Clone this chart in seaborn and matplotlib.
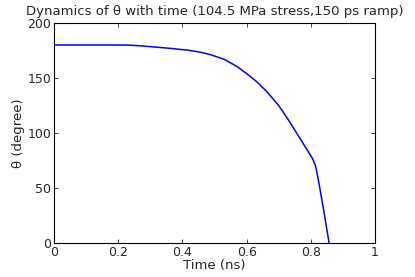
import pandas as pd
import matplotlib
matplotlib.use("Agg")
import matplotlib.pyplot as plt
import seaborn as sns

# Values
time_ns = [0, 0.1, 0.2, 0.24, 0.28, 0.32, 0.36, 0.42, 0.46, 0.49, 0.53, 0.57,
           0.60, 0.63, 0.66, 0.70, 0.73, 0.76, 0.79, 0.805, 0.815, 0.825,
           0.84, 0.857]
theta_deg = [180, 180, 180, 179.8, 179, 178, 177, 175.2, 173.2, 171, 167, 160.5,
             154, 147, 138.5, 125, 112, 98, 84, 77, 70, 55, 30, 0]

x_ticks = [0, 0.2, 0.4, 0.6, 0.8, 1]
x_tick_labels = ["0", "0.2", "0.4", "0.6", "0.8", "1"]
y_ticks = [0, 50, 100, 150, 200]

df = pd.DataFrame({"Time (ns)": time_ns, "theta": theta_deg})

sns.set_style("ticks")
plt.rcParams["font.family"] = ["DejaVu Sans"]

fig = plt.figure(figsize=(4.15, 2.77), dpi=100)
ax = fig.add_axes([54 / 415, 1 - 243 / 277, 321 / 415, 220 / 277])

sns.lineplot(x="Time (ns)", y="theta", data=df, sort=False, estimator=None,
             color="#0000ff", linewidth=1.1, ax=ax)

ax.set_xlim(0, 1)
ax.set_ylim(0, 200)
ax.set_xticks(x_ticks)
ax.set_xticklabels(x_tick_labels)
ax.set_yticks(y_ticks)
for side in ["top", "right", "left", "bottom"]:
    ax.spines[side].set_visible(True)
    ax.spines[side].set_color("black")
    ax.spines[side].set_linewidth(0.8)
ax.tick_params(direction="in", top=True, right=True, length=3, width=0.6,
               labelsize=9, pad=2)

ax.set_title("Dynamics of θ with time (104.5 MPa stress,150 ps ramp)",
             fontsize=9.5, pad=6)
ax.set_xlabel("Time (ns)", fontsize=9.5, labelpad=0)
ax.set_ylabel("θ (degree)", fontsize=9.5, labelpad=2)

plt.savefig("out.png", dpi=100)
